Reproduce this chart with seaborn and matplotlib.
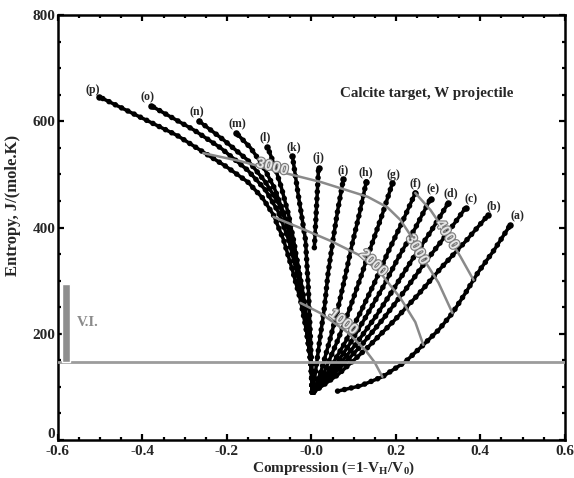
import matplotlib
matplotlib.use("Agg")
import matplotlib.pyplot as plt
import matplotlib.transforms as mtransforms
import numpy as np
import pandas as pd
import seaborn as sns
from matplotlib import patheffects as pe
from matplotlib.ticker import MultipleLocator

# ---------------- data ----------------
curve_names = ["(a)", "(b)", "(c)", "(d)", "(e)", "(f)", "(g)", "(h)",
               "(i)", "(j)", "(k)", "(l)", "(m)", "(n)", "(o)", "(p)"]

a_x = [0.062, 0.116, 0.168, 0.222, 0.265, 0.301, 0.334, 0.365, 0.395, 0.433, 0.471]
a_y = [92, 102, 119, 147, 179, 207, 239, 277, 316, 358, 405]
b_x = [0.005, 0.063, 0.133, 0.195, 0.253, 0.307, 0.365, 0.419]
b_y = [90, 123, 174, 224, 274, 324, 374, 424]
c_x = [0.005, 0.055, 0.117, 0.171, 0.221, 0.268, 0.318, 0.365]
c_y = [90, 125, 177, 229, 281, 333, 385, 437]
d_x = [0.005, 0.050, 0.104, 0.152, 0.196, 0.238, 0.283, 0.324]
d_y = [90, 126, 179, 232, 286, 339, 393, 446]
e_x = [0.005, 0.044, 0.091, 0.132, 0.171, 0.207, 0.246, 0.282]
e_y = [90, 126, 181, 236, 290, 345, 399, 454]
f_x = [0.005, 0.039, 0.080, 0.116, 0.150, 0.181, 0.215, 0.246]
f_y = [90, 128, 184, 240, 297, 353, 410, 465]
g_x = [0.005, 0.031, 0.063, 0.091, 0.117, 0.142, 0.168, 0.192]
g_y = [90, 129, 189, 248, 307, 366, 425, 484]
h_x = [0.005, 0.023, 0.044, 0.063, 0.080, 0.096, 0.114, 0.130]
h_y = [90, 130, 189, 248, 308, 367, 427, 486]
i_x = [0.003, 0.010, 0.020, 0.031, 0.039, 0.050, 0.062, 0.076]
i_y = [90, 130, 190, 250, 311, 371, 431, 492]
j_x = [0.007, 0.009, 0.011, 0.013, 0.015, 0.017]
j_y = [362, 392, 422, 452, 482, 512]
k_x = [0.002, -0.002, -0.007, -0.014, -0.031, -0.045]
k_y = [90, 188, 282, 377, 461, 535]
l_x = [0.002, 0.000, -0.007, -0.017, -0.028, -0.040, -0.054, -0.071, -0.088, -0.104]
l_y = [90, 136, 179, 241, 305, 367, 424, 475, 518, 552]
m_x = [0.002, 0.000, -0.007, -0.017, -0.028, -0.045, -0.064, -0.088, -0.116, -0.144, -0.178]
m_y = [90, 141, 188, 245, 305, 367, 424, 475, 518, 550, 578]
n_x = [0.002, 0.000, -0.007, -0.019, -0.033, -0.052, -0.076, -0.109, -0.151, -0.208, -0.267]
n_y = [90, 147, 207, 273, 335, 392, 443, 486, 527, 565, 601]
o_x = [0.002, 0.000, -0.007, -0.019, -0.036, -0.054, -0.078, -0.109, -0.151, -0.215, -0.279, -0.379]
o_y = [90, 147, 198, 258, 320, 377, 429, 471, 508, 550, 584, 629]
p_x = [0.002, -0.002, -0.012, -0.026, -0.045, -0.066, -0.090, -0.116, -0.151,
       -0.204, -0.256, -0.317, -0.398, -0.502]
p_y = [90, 151, 207, 264, 320, 377, 424, 456, 486, 516, 542, 573, 605, 646]

curve_x = [a_x, b_x, c_x, d_x, e_x, f_x, g_x, h_x, i_x, j_x, k_x, l_x, m_x, n_x, o_x, p_x]
curve_y = [a_y, b_y, c_y, d_y, e_y, f_y, g_y, h_y, i_y, j_y, k_y, l_y, m_y, n_y, o_y, p_y]

# constant-velocity contours (m/s)
contour_names = ["1000", "2000", "3000", "4000"]
c1000_x = [-0.026, 0.021, 0.085, 0.128, 0.150, 0.168]
c1000_y = [258, 239, 203, 169, 146, 119]
c2000_x = [-0.090, -0.026, 0.045, 0.116, 0.163, 0.211, 0.246, 0.265]
c2000_y = [420, 399, 375, 347, 315, 267, 222, 179]
c3000_x = [-0.256, -0.168, -0.090, 0.021, 0.133, 0.180, 0.211, 0.235, 0.251, 0.278, 0.301, 0.334]
c3000_y = [540, 525, 508, 486, 458, 438, 414, 385, 358, 325, 296, 239]
c4000_x = [0.246, 0.282, 0.322, 0.353, 0.384]
c4000_y = [465, 433, 386, 345, 301]
contour_x = [c1000_x, c2000_x, c3000_x, c4000_x]
contour_y = [c1000_y, c2000_y, c3000_y, c4000_y]

vi_entropy_low = 147     # incipient vaporisation level
vi_entropy_high = 293    # complete vaporisation level

xtick_values = [-0.6, -0.4, -0.2, 0.0, 0.2, 0.4, 0.6]
xtick_labels = ["-0.6", "-0.4", "-0.2", "-0.0", "0.2", "0.4", "0.6"]
ytick_values = [0, 200, 400, 600, 800]

# ---------------- tables ----------------
rows = []
for name, xs, ys in zip(curve_names, curve_x, curve_y):
    for k, (xv, yv) in enumerate(zip(xs, ys)):
        rows.append((name, k, xv, yv))
curves = pd.DataFrame(rows, columns=["curve", "order", "compression", "entropy"])

rows = []
for name, xs, ys in zip(contour_names, contour_x, contour_y):
    for k, (xv, yv) in enumerate(zip(xs, ys)):
        rows.append((name, k, xv, yv))
contours = pd.DataFrame(rows, columns=["velocity", "order", "compression", "entropy"])

# ---------------- style ----------------
sns.set_theme(style="ticks")
plt.rcParams["font.family"] = ["Liberation Serif", "DejaVu Serif"]
plt.rcParams["font.weight"] = "bold"
plt.rcParams["axes.labelweight"] = "bold"
plt.rcParams["mathtext.fontset"] = "custom"
plt.rcParams["mathtext.rm"] = "Liberation Serif:bold"
plt.rcParams["mathtext.bf"] = "Liberation Serif:bold"
plt.rcParams["mathtext.it"] = "Liberation Serif:bold"

fig = plt.figure(figsize=(5.74, 4.78), dpi=100)
ax = fig.add_axes([0.101, 0.0795, 0.883, 0.889])

# solid line
sns.lineplot(data=curves, x="compression", y="entropy", units="curve",
             estimator=None, sort=False, color="black", linewidth=2.5,
             ax=ax, legend=False, zorder=3)
# beaded overlay (round dots along each curve)
sns.lineplot(data=curves, x="compression", y="entropy", units="curve",
             estimator=None, sort=False, color="black", linewidth=4.0,
             linestyle=(0, (0.01, 1.25)), dash_capstyle="round",
             ax=ax, legend=False, zorder=3)
# end dots
ends = curves.groupby("curve", sort=False).tail(1)
sns.scatterplot(data=ends, x="compression", y="entropy", color="black", s=22,
                linewidth=0, ax=ax, legend=False, zorder=3)

sns.lineplot(data=contours, x="compression", y="entropy", units="velocity",
             estimator=None, sort=False, color="#8a8a8a", linewidth=1.8,
             ax=ax, legend=False, zorder=4)

ax.axhline(vi_entropy_low, color="#9c9c9c", linewidth=2.0, zorder=5)
ax.bar([-0.581], [vi_entropy_high - vi_entropy_low], bottom=vi_entropy_low,
       width=0.018, color="#8e8e8e", zorder=5)
ax.text(-0.530, 222, "V.I.", color="#8a8a8a", fontsize=10.5,
        fontweight="bold", ha="center", va="center")

# curve letters
label_dx = [5, 4, 4, 2, 2, 0, 1, 0, 0, 0, 1, -2, 1, -1, -3, -5]
label_dy = [6, 6, 6, 7, 7, 7, 6, 7, 6, 7, 6, 7, 6, 6, 6, 5]
for name, xs, ys, dx, dy in zip(curve_names, curve_x, curve_y, label_dx, label_dy):
    ax.annotate(name, (xs[-1], ys[-1]), xytext=(dx, dy), textcoords="offset points",
                ha="center", va="center", fontsize=8.5, fontweight="bold", zorder=6)

# contour labels
clab = [("3000", -0.092, 514, -15), ("3000", 0.251, 358, -60),
        ("4000", 0.322, 386, -58), ("2000", 0.147, 333, -43),
        ("1000", 0.076, 222, -38)]
for txt, xv, yv, rot in clab:
    ax.text(xv, yv, txt, color="#e6e6e6", fontsize=10.5, fontweight="bold",
            rotation=rot, rotation_mode="anchor", ha="center", va="center",
            zorder=7, family=["Liberation Sans", "DejaVu Sans"],
            path_effects=[pe.withStroke(linewidth=1.6, foreground="#7c7c7c")])

ax.text(0.272, 653, "Calcite target, W projectile", fontsize=10.8,
        fontweight="bold", ha="center", va="center")

ax.set_xlim(-0.6, 0.6)
ax.set_ylim(0, 800)
ax.set_xticks(xtick_values)
ax.set_xticklabels(xtick_labels)
ax.set_yticks(ytick_values)
ax.xaxis.set_minor_locator(MultipleLocator(0.05))
ax.yaxis.set_minor_locator(MultipleLocator(50))
ax.tick_params(which="both", direction="in", top=True, right=True,
               width=1.6, color="black", labelsize=11)
ax.tick_params(axis="x", pad=3.5)
ax.tick_params(axis="y", pad=2)
ax.tick_params(which="major", length=4.5)
ax.tick_params(which="minor", length=2.5)
for t in ax.get_xticklabels() + ax.get_yticklabels():
    t.set_fontweight("bold")
for s in ax.spines.values():
    s.set_linewidth(1.8)
    s.set_color("black")

# lift the "0" label a little so it clears "-0.6", as in the reference
zero_lbl = ax.get_yticklabels()[0]
zero_lbl.set_transform(zero_lbl.get_transform() +
                       mtransforms.ScaledTranslation(0, 5 / 72, fig.dpi_scale_trans))

ax.set_xlabel("Compression (=1-V$_\\mathbf{H}$/V$_\\mathbf{0}$)", fontsize=11,
              fontweight="bold")
ax.xaxis.set_label_coords(0.543, -0.047)
ax.set_ylabel("Entropy, J/(mole.K)", fontsize=12, fontweight="bold")
ax.yaxis.set_label_coords(-0.072, 0.553)
ax.grid(False)

fig.savefig("out.png", dpi=100)
